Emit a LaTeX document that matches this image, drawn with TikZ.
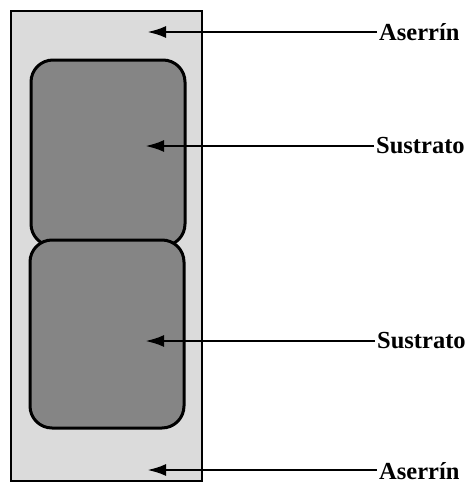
\documentclass[tikz,border=0pt]{standalone}
\usepackage{fontspec}
\setmainfont{Liberation Serif}
\usetikzlibrary{arrows.meta}
\definecolor{sawdust}{gray}{0.86}
\definecolor{substrate}{gray}{0.52}
\tikzset{
  outerbox/.style={draw=black, line width=2.8pt, fill=sawdust},
  subbox/.style={draw=black, line width=3pt, fill=substrate, rounded corners=22pt},
  lab/.style={anchor=west, inner xsep=2pt, inner ysep=0pt, font=\bfseries\fontsize{24.5}{26}\selectfont},
  pointer/.style={line width=2.8pt, -{Latex[length=19pt,width=12pt]}}
}
\begin{document}
\begin{tikzpicture}[x=1pt,y=-1pt]
\useasboundingbox (0,0) rectangle (472,485);
% outer sawdust box
\draw[outerbox] (11,11) rectangle (202,481);
% substrate blocks
\draw[subbox] (31,60) rectangle (185,246);
\draw[subbox] (30,240) rectangle (184,428);
% arrow tips
\coordinate (t1) at (147,32);
\coordinate (t2) at (145,146);
\coordinate (t3) at (145,341);
\coordinate (t4) at (147,470);
% labels
\node[lab] (l1) at (377,32) {Aserrín};
\node[lab] (l2) at (374,146) {Sustrato};
\node[lab] (l3) at (375,341) {Sustrato};
\node[lab] (l4) at (377,471) {Aserrín};
% connectors
\draw[pointer] (l1.west) -- (t1);
\draw[pointer] (l2.west) -- (t2);
\draw[pointer] (l3.west) -- (t3);
\draw[pointer] (l4.west |- t4) -- (t4);
\end{tikzpicture}
\end{document}
